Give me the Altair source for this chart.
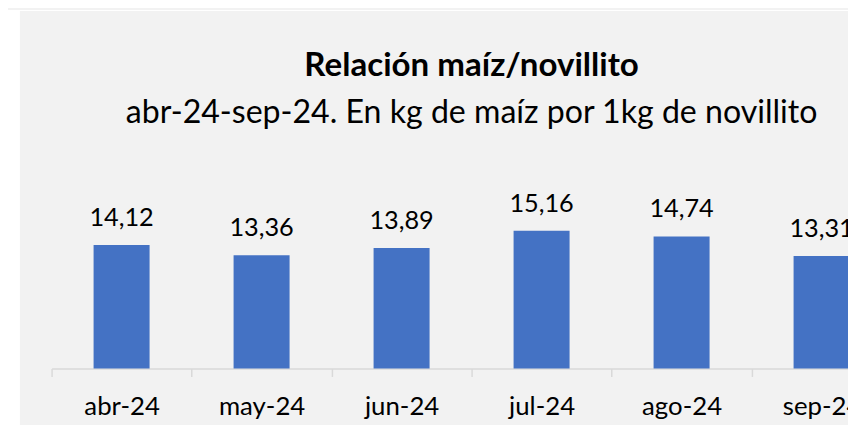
import altair as alt
import pandas as pd

# Data
meses = ["abr-24", "may-24", "jun-24", "jul-24", "ago-24", "sep-24"]
valores = [14.12, 13.36, 13.89, 15.16, 14.74, 13.31]
etiquetas = ["14,12", "13,36", "13,89", "15,16", "14,74", "13,31"]

titulo = "Relación maíz/novillito"
subtitulo = "abr-24-sep-24. En kg de maíz por 1kg de novillito"

df = pd.DataFrame({"mes": meses, "valor": valores, "etiqueta": etiquetas})

W = 804
H = 212
PX_PER_UNIT = 13.68
YMIN = 5

x_enc = alt.X(
    "mes:N",
    sort=meses,
    scale=alt.Scale(range=[0, 848], paddingInner=0, paddingOuter=0),
    axis=alt.Axis(
        title=None,
        labelAngle=0,
        labelFont="Lato",
        labelFontSize=26,
        labelColor="#000000",
        labelBaseline="alphabetic",
        labelPadding=38.7,
        domainColor="#d9d9d9",
        domainWidth=1.5,
        tickColor="#d9d9d9",
        tickWidth=1.5,
        tickSize=8,
        tickBand="extent",
        grid=False,
    ),
)
y_enc = alt.Y(
    "valor:Q",
    scale=alt.Scale(domain=[YMIN, YMIN + H / PX_PER_UNIT], nice=False, zero=False, clamp=True),
    axis=None,
)

base = alt.Chart(df)

bars = base.mark_bar(color="#4472c4", width=alt.RelativeBandSize(0.4)).encode(
    x=x_enc, y=y_enc, y2=alt.datum(YMIN)
)

text = base.mark_text(
    font="Lato", fontSize=25.5, baseline="alphabetic", dy=-19.5, color="#000000"
).encode(x=x_enc, y=y_enc, text="etiqueta:N")

bg = alt.Chart(pd.DataFrame({"z": [0]})).mark_rect(color="white").encode(
    x=alt.value(-44), x2=alt.value(-32), y=alt.value(-150), y2=alt.value(H + 60)
)
bg_top = alt.Chart(pd.DataFrame({"z": [0]})).mark_rect(color="white").encode(
    x=alt.value(-44), x2=alt.value(W + 10), y=alt.value(-150), y2=alt.value(-149)
)

title_df = pd.DataFrame({"t": [titulo]})
sub_df = pd.DataFrame({"t": [subtitulo]})

title_mark = alt.Chart(title_df).mark_text(
    font="Lato", fontSize=33.4, fontWeight="bold", color="#000000",
    baseline="alphabetic", align="center"
).encode(x=alt.value(424), y=alt.value(-83.7), text="t:N")

sub_mark = alt.Chart(sub_df).mark_text(
    font="Lato", fontSize=32.4, color="#000000",
    baseline="alphabetic", align="center"
).encode(x=alt.value(424), y=alt.value(-36), text="t:N")

chart = alt.layer(bg, bg_top, bars, text, title_mark, sub_mark).properties(
    width=W,
    height=H,
    padding={"left": 44, "top": 150, "right": 0, "bottom": 55},
    autosize=alt.AutoSizeParams(type="none"),
).configure(background="#f2f2f2").configure_view(stroke=None)

chart.save("out.html", embed_options={"renderer": "svg", "actions": False})
